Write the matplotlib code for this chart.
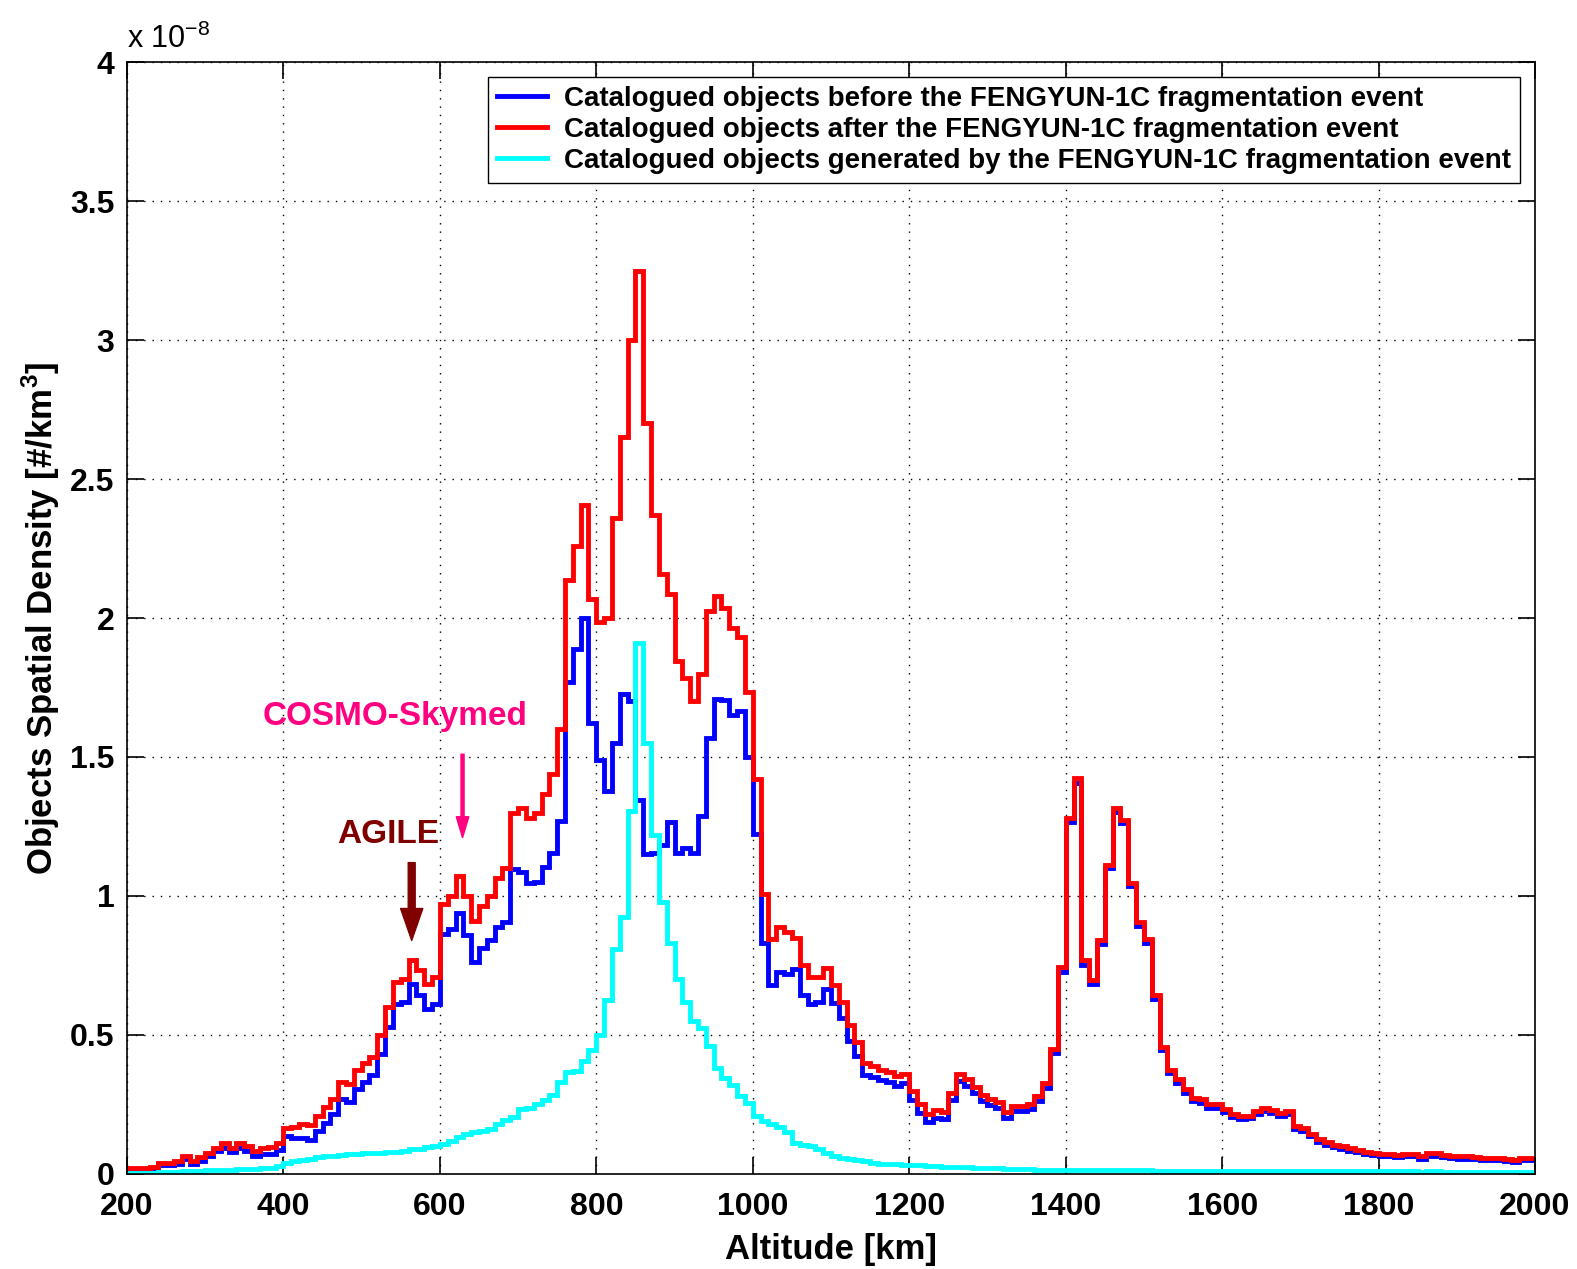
import numpy as np
import matplotlib
matplotlib.use("Agg")
import matplotlib.pyplot as plt

plt.rcParams['font.family'] = ['Liberation Sans', 'DejaVu Sans']

# 10 km altitude bins, left edges 200 ... 1990 km
bin_left = np.arange(200, 2000, 10)

# spatial density in units of 1e-8 objects/km^3
before_fy1c = [
    0.017, 0.017, 0.018, 0.020, 0.032, 0.033, 0.037, 0.055, 0.037, 0.048,
    0.064, 0.082, 0.095, 0.080, 0.093, 0.082, 0.064, 0.072, 0.073, 0.085,
    0.135, 0.130, 0.130, 0.122, 0.155, 0.183, 0.215, 0.270, 0.260, 0.305,
    0.332, 0.356, 0.432, 0.530, 0.610, 0.618, 0.684, 0.645, 0.592, 0.612,
    0.862, 0.880, 0.940, 0.858, 0.762, 0.813, 0.840, 0.888, 0.907, 1.097,
    1.085, 1.045, 1.050, 1.103, 1.155, 1.270, 1.770, 1.890, 2.000, 1.624,
    1.490, 1.377, 1.552, 1.728, 1.700, 1.345, 1.152, 1.155, 1.182, 1.265,
    1.155, 1.172, 1.155, 1.287, 1.567, 1.708, 1.704, 1.650, 1.665, 1.500,
    1.222, 0.830, 0.678, 0.727, 0.720, 0.738, 0.645, 0.610, 0.620, 0.665,
    0.616, 0.562, 0.480, 0.425, 0.355, 0.350, 0.338, 0.332, 0.317, 0.326,
    0.267, 0.219, 0.187, 0.203, 0.196, 0.265, 0.335, 0.316, 0.290, 0.263,
    0.249, 0.238, 0.203, 0.227, 0.228, 0.233, 0.264, 0.311, 0.434, 0.728,
    1.265, 1.408, 0.753, 0.682, 0.826, 1.099, 1.301, 1.261, 1.035, 0.892,
    0.832, 0.631, 0.446, 0.363, 0.328, 0.293, 0.263, 0.257, 0.239, 0.239,
    0.222, 0.204, 0.198, 0.200, 0.215, 0.228, 0.220, 0.210, 0.216, 0.163,
    0.155, 0.135, 0.115, 0.105, 0.096, 0.091, 0.084, 0.078, 0.071, 0.067,
    0.063, 0.063, 0.060, 0.064, 0.064, 0.055, 0.066, 0.066, 0.061, 0.057,
    0.055, 0.055, 0.054, 0.050, 0.049, 0.049, 0.047, 0.043, 0.050, 0.050,
]

after_fy1c = [
    0.020, 0.020, 0.022, 0.025, 0.038, 0.040, 0.045, 0.065, 0.048, 0.060,
    0.077, 0.095, 0.110, 0.095, 0.110, 0.100, 0.083, 0.095, 0.098, 0.113,
    0.167, 0.170, 0.180, 0.175, 0.210, 0.240, 0.270, 0.330, 0.325, 0.375,
    0.400, 0.420, 0.500, 0.600, 0.690, 0.700, 0.770, 0.733, 0.685, 0.710,
    0.970, 1.000, 1.073, 1.000, 0.910, 0.965, 1.000, 1.065, 1.100, 1.300,
    1.315, 1.280, 1.300, 1.368, 1.440, 1.600, 2.135, 2.260, 2.406, 2.070,
    1.985, 2.000, 2.360, 2.650, 3.000, 3.250, 2.700, 2.370, 2.160, 2.086,
    1.846, 1.784, 1.700, 1.800, 2.025, 2.080, 2.037, 1.963, 1.930, 1.735,
    1.420, 1.006, 0.846, 0.889, 0.870, 0.850, 0.750, 0.710, 0.710, 0.740,
    0.680, 0.620, 0.535, 0.475, 0.400, 0.390, 0.375, 0.368, 0.352, 0.360,
    0.300, 0.250, 0.216, 0.230, 0.222, 0.290, 0.360, 0.340, 0.313, 0.285,
    0.270, 0.258, 0.222, 0.245, 0.245, 0.250, 0.280, 0.327, 0.450, 0.744,
    1.280, 1.423, 0.768, 0.696, 0.840, 1.113, 1.315, 1.274, 1.048, 0.905,
    0.845, 0.643, 0.458, 0.375, 0.340, 0.304, 0.274, 0.268, 0.250, 0.250,
    0.232, 0.214, 0.208, 0.210, 0.225, 0.238, 0.230, 0.220, 0.226, 0.173,
    0.165, 0.145, 0.125, 0.115, 0.105, 0.100, 0.093, 0.087, 0.080, 0.076,
    0.072, 0.072, 0.069, 0.073, 0.073, 0.063, 0.075, 0.075, 0.069, 0.065,
    0.063, 0.063, 0.062, 0.058, 0.057, 0.057, 0.055, 0.050, 0.057, 0.057,
]

generated_fy1c = [
    0.003, 0.003, 0.004, 0.005, 0.006, 0.007, 0.008, 0.010, 0.011, 0.012,
    0.013, 0.014, 0.015, 0.016, 0.017, 0.018, 0.019, 0.021, 0.023, 0.030,
    0.038, 0.045, 0.050, 0.055, 0.060, 0.064, 0.066, 0.069, 0.071, 0.073,
    0.074, 0.075, 0.076, 0.078, 0.080, 0.083, 0.088, 0.090, 0.096, 0.100,
    0.107, 0.118, 0.134, 0.142, 0.150, 0.154, 0.160, 0.178, 0.194, 0.205,
    0.232, 0.238, 0.250, 0.265, 0.285, 0.330, 0.365, 0.370, 0.405, 0.446,
    0.500, 0.625, 0.810, 0.924, 1.306, 1.910, 1.550, 1.220, 0.980, 0.830,
    0.700, 0.617, 0.550, 0.525, 0.460, 0.380, 0.345, 0.320, 0.280, 0.255,
    0.210, 0.190, 0.180, 0.170, 0.150, 0.112, 0.105, 0.100, 0.090, 0.075,
    0.064, 0.058, 0.055, 0.050, 0.045, 0.040, 0.037, 0.036, 0.035, 0.034,
    0.033, 0.031, 0.029, 0.027, 0.026, 0.025, 0.025, 0.024, 0.023, 0.022,
    0.021, 0.020, 0.019, 0.018, 0.017, 0.017, 0.016, 0.016, 0.016, 0.016,
    0.015, 0.015, 0.015, 0.014, 0.014, 0.014, 0.014, 0.013, 0.013, 0.013,
    0.013, 0.012, 0.012, 0.012, 0.012, 0.011, 0.011, 0.011, 0.011, 0.011,
    0.010, 0.010, 0.010, 0.010, 0.010, 0.010, 0.010, 0.010, 0.010, 0.010,
    0.010, 0.010, 0.010, 0.010, 0.009, 0.009, 0.009, 0.009, 0.009, 0.009,
    0.009, 0.009, 0.009, 0.009, 0.009, 0.008, 0.009, 0.009, 0.008, 0.008,
    0.008, 0.008, 0.008, 0.008, 0.008, 0.008, 0.008, 0.007, 0.007, 0.007,
]

labels = [
    "Catalogued objects before the FENGYUN-1C fragmentation event",
    "Catalogued objects after the FENGYUN-1C fragmentation event",
    "Catalogued objects generated by the FENGYUN-1C fragmentation event",
]
colors = ["#0000ff", "#ff0000", "#00ffff"]


def stepline(ax, vals, color, label):
    x = np.append(bin_left, bin_left[-1] + 10)
    y = np.append(vals, vals[-1])
    ax.step(x, y, where='post', color=color, lw=3.5, label=label,
            solid_joinstyle='miter')


fig = plt.figure(figsize=(15.77, 12.69), dpi=100)
ax = fig.add_axes([0.0805, 0.0749, 0.8929, 0.8762])

stepline(ax, before_fy1c, colors[0], labels[0])
stepline(ax, after_fy1c, colors[1], labels[1])
stepline(ax, generated_fy1c, colors[2], labels[2])

ax.set_xlim(200, 2000)
ax.set_ylim(0, 4)
ax.set_xticks(np.arange(200, 2001, 200))
ax.set_yticks(np.arange(0, 4.01, 0.5))
ax.set_yticklabels(["%g" % v for v in np.arange(0, 4.01, 0.5)])

ax.grid(True, color='black', linestyle=(0, (1, 5)), linewidth=1.0)
ax.tick_params(direction='in', length=12, width=1.2, top=True, right=True,
               labelsize=23)
ax.tick_params(axis='x', pad=13)
ax.tick_params(axis='y', pad=9)
for lab in ax.get_xticklabels() + ax.get_yticklabels():
    lab.set_fontweight('bold')
for sp in ax.spines.values():
    sp.set_linewidth(1.2)

ax.set_xlabel("Altitude [km]", fontsize=25, fontweight='bold', labelpad=8)
ax.set_ylabel("Objects Spatial Density [#/km$^\\mathregular{3}$]", fontsize=25,
              fontweight='bold', labelpad=6)
ax.text(0.0, 1.006, "x 10$^{\\mathregular{-8}}$", transform=ax.transAxes,
        fontsize=22, ha='left', va='bottom')

leg = ax.legend(loc='upper right', prop={'weight': 'bold', 'size': 20},
                fancybox=False, framealpha=1, edgecolor='black',
                borderaxespad=0.55, labelspacing=0.17, handlelength=1.8,
                handletextpad=0.6, borderpad=0.32)
leg.get_frame().set_linewidth(1.0)

# satellite markers
ax.text(543, 1.647, "COSMO-Skymed", color='#ff0080', fontsize=24,
        fontweight='bold', ha='center', va='center')
ax.annotate('', xy=(629, 1.21), xytext=(629, 1.51),
            arrowprops=dict(color='#ff0080', width=2.2, headwidth=9,
                            headlength=15, shrink=0))
ax.text(534, 1.221, "AGILE", color='#800000', fontsize=24,
        fontweight='bold', ha='center', va='center')
ax.annotate('', xy=(564, 0.84), xytext=(564, 1.12),
            arrowprops=dict(color='#800000', width=5, headwidth=16,
                            headlength=23, shrink=0))

fig.savefig("out.png", dpi=100)
